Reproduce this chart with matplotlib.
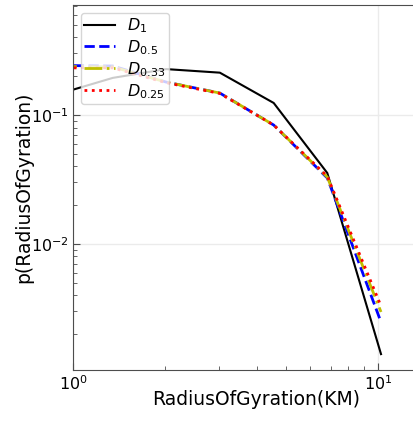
import matplotlib
matplotlib.use("Agg")
import matplotlib.pyplot as plt
import numpy as np

x = [0.9, 1.35, 2.02, 3.03, 4.55, 6.82, 10.23]
d1 = [0.146, 0.194, 0.227, 0.213, 0.124, 0.0355, 0.0014]
d05 = [0.242, 0.240, 0.180, 0.148, 0.0836, 0.0325, 0.00248]
d033 = [0.238, 0.236, 0.180, 0.148, 0.0836, 0.0330, 0.00297]
d025 = [0.232, 0.232, 0.178, 0.147, 0.0836, 0.0335, 0.0033]
labels = [r"$D_1$", r"$D_{0.5}$", r"$D_{0.33}$", r"$D_{0.25}$"]

fig = plt.figure(figsize=(4.14, 4.21), dpi=100)
ax = fig.add_axes([73/414, 51/421, 367/414, 365/421])

ax.plot(x, d1, color="k", ls="-", lw=1.5, label=labels[0])
ax.plot(x, d05, color="b", ls="--", lw=2, label=labels[1])
ax.plot(x, d033, color="y", ls="-.", lw=2, label=labels[2])
ax.plot(x, d025, color="r", ls=":", lw=2, label=labels[3])

ax.set_xscale("log")
ax.set_yscale("log")
ax.set_xlim(1, 10**(367/305))
ax.set_ylim(10**(-2.977), 10**(-0.147))
ax.grid(True, which="major", color="0.92", lw=1)
ax.tick_params(which="both", direction="in", labelsize=11.5, pad=3, colors="0.3", labelcolor="k")
ax.tick_params(which="major", length=5)
ax.tick_params(which="minor", length=3)
for s in ax.spines.values():
    s.set_color("0.3")
ax.set_xlabel("RadiusOfGyration(KM)", fontsize=13.5, labelpad=-2)
ax.set_ylabel("p(RadiusOfGyration)", fontsize=13.5, labelpad=-2)
ax.legend(loc="upper left", fontsize=11.5, labelspacing=0.2, handlelength=1.9,
          borderpad=0.2)
fig.savefig("out.png", dpi=100)
